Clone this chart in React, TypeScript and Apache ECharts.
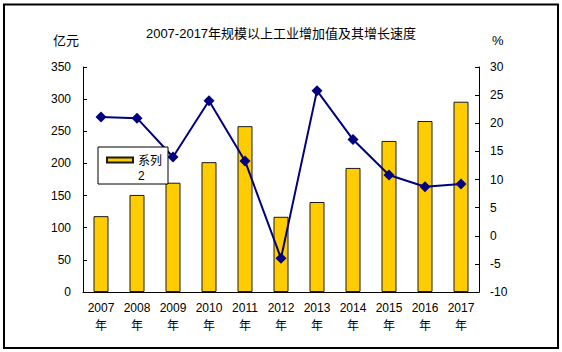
import React, { useEffect, useRef } from "react";
import * as echarts from "echarts";

const years = ["2007", "2008", "2009", "2010", "2011", "2012", "2013", "2014", "2015", "2016", "2017"];
const valueAdded = [118, 151, 170, 202, 258, 117, 140, 193, 235, 266, 296];
const growth = [21.1, 20.9, 14.0, 24.0, 13.3, -4.0, 25.8, 17.1, 10.8, 8.7, 9.2];
const leftTicks = { min: 0, max: 350, interval: 50 };
const rightTicks = { min: -10, max: 30, interval: 5 };

const FONT = "'Liberation Sans', 'Noto Sans CJK SC', sans-serif";

export default function App() {
  const ref = useRef<HTMLDivElement>(null);
  useEffect(() => {
    if (!ref.current) return;
    const chart = echarts.init(ref.current, undefined, { renderer: "svg" });
    chart.setOption({
      animation: false,
      backgroundColor: "#ffffff",
      textStyle: { fontFamily: FONT },
      title: {
        text: "2007-2017年规模以上工业增加值及其增长速度",
        left: "center",
        top: 22,
        textStyle: { fontSize: 13, fontWeight: "normal", color: "#000", fontFamily: FONT },
      },
      graphic: [
        {
          type: "rect",
          shape: { x: 4, y: 4.5, width: 554, height: 343.5 },
          style: { fill: "none", stroke: "#000", lineWidth: 2 },
          silent: true,
        },
      ],
      legend: {
        data: [{ name: "系列2", icon: "path://M0,0L26,0L26,5L0,5Z M26,21" }],
        left: 98,
        top: 147,
        orient: "vertical",
        backgroundColor: "#fff",
        borderColor: "#000",
        borderWidth: 1,
        padding: [6, 6, 1, 8],
        itemWidth: 26,
        itemHeight: 21,
        itemGap: 4,
        formatter: () => "系列\n2",
        textStyle: { fontSize: 12, color: "#000", lineHeight: 15, fontFamily: FONT },
      },
      grid: { left: 83, right: 83, top: 67, bottom: 60 },
      xAxis: {
        type: "category",
        data: years,
        boundaryGap: true,
        axisLine: { lineStyle: { color: "#000", width: 1 } },
        axisTick: { inside: true, length: 4, lineStyle: { color: "#000" } },
        axisLabel: {
          color: "#000",
          fontSize: 12,
          lineHeight: 18,
          margin: 7,
          formatter: (v: string) => v + "\n年",
          fontFamily: FONT,
        },
      },
      yAxis: [
        {
          type: "value",
          ...leftTicks,
          name: "亿元",
          nameLocation: "end",
          nameGap: 20,
          nameTextStyle: { color: "#000", fontSize: 13, align: "right", padding: [0, 4, 0, 0], fontFamily: FONT },
          axisLine: { show: true, lineStyle: { color: "#000" } },
          axisTick: { show: true, inside: true, length: 4, lineStyle: { color: "#000" } },
          axisLabel: { color: "#000", fontSize: 12, margin: 12, fontFamily: FONT },
          splitLine: { show: false },
        },
        {
          type: "value",
          position: "right",
          ...rightTicks,
          name: "%",
          nameLocation: "end",
          nameGap: 20,
          nameTextStyle: { color: "#000", fontSize: 13, align: "left", padding: [0, 0, 0, 13], fontFamily: FONT },
          axisLine: { show: true, lineStyle: { color: "#000" } },
          axisTick: { show: true, inside: true, length: 4, lineStyle: { color: "#000" } },
          axisLabel: { color: "#000", fontSize: 12, margin: 11, fontFamily: FONT },
          splitLine: { show: false },
        },
      ],
      series: [
        {
          name: "系列2",
          type: "bar",
          data: valueAdded,
          barWidth: 15,
          itemStyle: { color: "#FFCC00", borderColor: "#1a1a1a", borderWidth: 1 },
        },
        {
          name: "增长速度",
          type: "line",
          yAxisIndex: 1,
          data: growth,
          symbol: "diamond",
          symbolSize: 11,
          lineStyle: { color: "#000080", width: 2 },
          itemStyle: { color: "#000080" },
        },
      ],
    });
    return () => chart.dispose();
  }, []);
  return <div ref={ref} style={{ position: "fixed", left: 0, top: 0, width: 562, height: 352 }} />;
}
